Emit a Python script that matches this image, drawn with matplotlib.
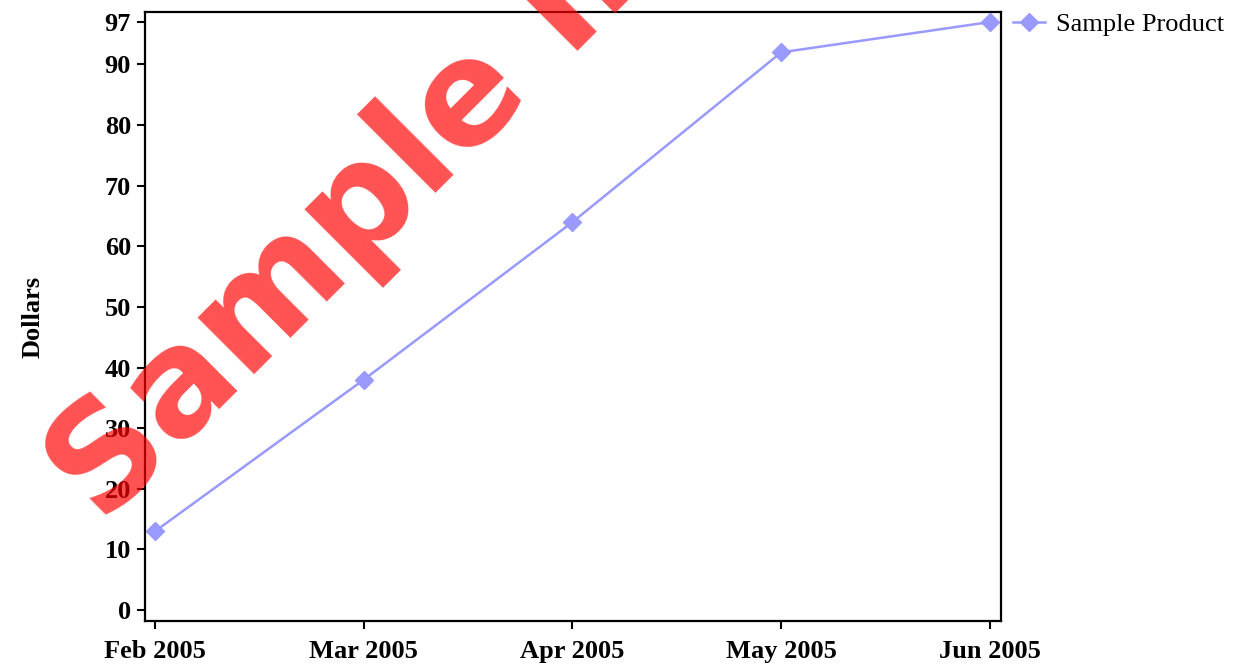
import matplotlib
matplotlib.use("Agg")
import matplotlib.pyplot as plt

# values
months = ["Feb 2005", "Mar 2005", "Apr 2005", "May 2005", "Jun 2005"]
dollars = [13, 38, 64, 92, 97]
y_ticks = [0, 10, 20, 30, 40, 50, 60, 70, 80, 90, 97]
series_name = "Sample Product"

plt.rcParams['font.family'] = ['Liberation Serif', 'DejaVu Serif']

fig = plt.figure(figsize=(12.35, 6.69), dpi=100)
ax = fig.add_axes([0.1174, 0.0717, 0.6931, 0.9103])

x = list(range(len(months)))
ax.plot(x, dollars, color='#9999ff', lw=1.8, marker='D', markersize=9.5,
        label=series_name)

ax.set_xlim(-0.048, 4.053)
ax.set_ylim(-1.8, 98.65)
ax.set_xticks(x)
ax.set_xticklabels(months, fontsize=19, fontweight='bold')
ax.set_yticks(y_ticks)
ax.set_yticklabels([str(v) for v in y_ticks], fontsize=19, fontweight='bold')
ax.tick_params(length=6, width=1.5, pad=4)
ax.tick_params(axis='x', pad=8)
for s in ax.spines.values():
    s.set_linewidth(1.6)

ax.set_ylabel("Dollars", fontsize=19, fontweight='bold')
ax.yaxis.set_label_coords(-0.117, 0.5)

ax.legend(loc='upper left', bbox_to_anchor=(1.014, 0.9985), frameon=False,
          fontsize=19, borderpad=0, borderaxespad=0, handlelength=1.2,
          handletextpad=0.42)

# watermark
fig.text(0.083, 0.2137, "Sample Image", fontsize=105, fontweight='bold',
         family='DejaVu Sans', color='#ff0000', alpha=0.68, rotation=45,
         rotation_mode='anchor', ha='left', va='baseline')

fig.savefig("out.png", dpi=100)
